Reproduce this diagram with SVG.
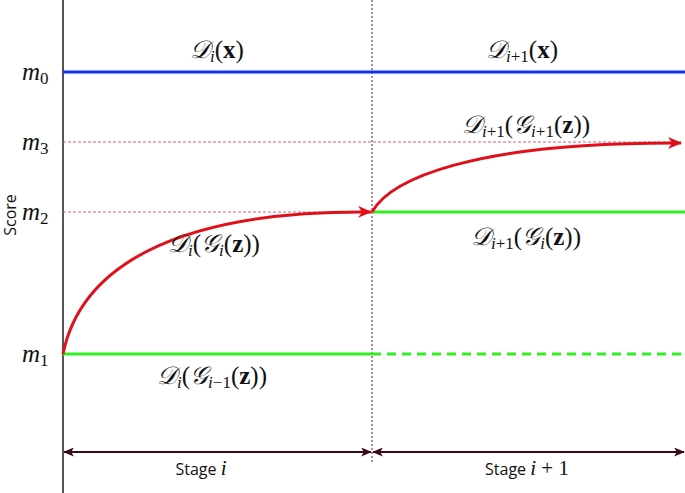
<svg xmlns="http://www.w3.org/2000/svg" width="685" height="493" viewBox="0 0 685 493">
<style>
.m{font-family:"Liberation Serif","DejaVu Serif",serif;font-style:italic;font-size:25px;fill:#111}
.r{font-style:normal}
.b{font-style:normal;font-weight:bold}
.s{font-size:17px}
.sans{font-family:"Open Sans","DejaVu Sans",sans-serif;font-size:16px;fill:#111}
.guide{stroke:#d06080;stroke-width:1;stroke-dasharray:3 2;fill:none}
.red{stroke:#e0101a;stroke-width:3;fill:none}
.green{stroke:#33ee22;stroke-width:3;fill:none}
.blue{stroke:#1133ee;stroke-width:3;fill:none}
.stage{stroke:#3a0818;stroke-width:2;fill:none}
</style>
<defs>
<marker id="ra" viewBox="0 0 14 12" refX="13" refY="6" markerWidth="14" markerHeight="12" markerUnits="userSpaceOnUse" orient="auto">
<path d="M0,0 L14,6 L0,12 L4,6 Z" fill="#e0101a"/>
</marker>
<marker id="sa" viewBox="0 0 12 10" refX="11" refY="5" markerWidth="11" markerHeight="9" markerUnits="userSpaceOnUse" orient="auto-start-reverse">
<path d="M0,0 L12,5 L0,10 L3,5 Z" fill="#3a0818"/>
</marker>
</defs>
<rect width="685" height="493" fill="#fff"/>
<g id="axes">
<line x1="63" y1="0" x2="63" y2="493" stroke="#555" stroke-width="2"/>
<line x1="372" y1="0" x2="372" y2="462" stroke="#6a1030" stroke-width="1" stroke-dasharray="2 2"/>
<text class="sans" transform="translate(16,215) rotate(-90)" text-anchor="middle">Score</text>
<text class="m" x="22" y="80">m<tspan class="r s" dy="4">0</tspan></text>
<text class="m" x="22" y="150">m<tspan class="r s" dy="4">3</tspan></text>
<text class="m" x="22" y="220">m<tspan class="r s" dy="4">2</tspan></text>
<text class="m" x="22" y="362">m<tspan class="r s" dy="4">1</tspan></text>
</g>
<g id="connectors">
<line class="guide" x1="63" y1="142" x2="670" y2="142"/>
<line class="guide" x1="63" y1="212" x2="372" y2="212"/>
<line class="blue" x1="63" y1="72" x2="685" y2="72"/>
<line class="green" x1="63" y1="354" x2="372" y2="354"/>
<line class="green" x1="372" y1="354" x2="685" y2="354" stroke-dasharray="9 6"/>
<line class="green" x1="372" y1="212" x2="685" y2="212"/>
<path class="red" d="M63,354 C80,270 170,210 371,212" marker-end="url(#ra)"/>
<path class="red" d="M372,212 C390,180 470,142 681,143" marker-end="url(#ra)"/>
<line class="stage" x1="64" y1="452" x2="371" y2="452" marker-start="url(#sa)" marker-end="url(#sa)"/>
<line class="stage" x1="373" y1="452" x2="684" y2="452" marker-start="url(#sa)" marker-end="url(#sa)"/>
</g>
<g id="labels">
<text class="m" x="217" y="58" text-anchor="middle">𝒟<tspan class="s" dy="4">i</tspan><tspan class="r" dy="-4">(</tspan><tspan class="b">x</tspan><tspan class="r">)</tspan></text>
<text class="m" x="522" y="58" text-anchor="middle">𝒟<tspan class="s" dy="4">i</tspan><tspan class="r s">+1</tspan><tspan class="r" dy="-4">(</tspan><tspan class="b">x</tspan><tspan class="r">)</tspan></text>
<text class="m" x="526" y="133" text-anchor="middle">𝒟<tspan class="s" dy="4">i</tspan><tspan class="r s">+1</tspan><tspan class="r" dy="-4">(</tspan>𝒢<tspan class="s" dy="4">i</tspan><tspan class="r s">+1</tspan><tspan class="r" dy="-4">(</tspan><tspan class="b">z</tspan><tspan class="r">))</tspan></text>
<text class="m" x="214" y="252" text-anchor="middle">𝒟<tspan class="s" dy="4">i</tspan><tspan class="r" dy="-4">(</tspan>𝒢<tspan class="s" dy="4">i</tspan><tspan class="r" dy="-4">(</tspan><tspan class="b">z</tspan><tspan class="r">))</tspan></text>
<text class="m" x="526" y="245" text-anchor="middle">𝒟<tspan class="s" dy="4">i</tspan><tspan class="r s">+1</tspan><tspan class="r" dy="-4">(</tspan>𝒢<tspan class="s" dy="4">i</tspan><tspan class="r" dy="-4">(</tspan><tspan class="b">z</tspan><tspan class="r">))</tspan></text>
<text class="m" x="212" y="384" text-anchor="middle">𝒟<tspan class="s" dy="4">i</tspan><tspan class="r" dy="-4">(</tspan>𝒢<tspan class="s" dy="4">i</tspan><tspan class="r s">−1</tspan><tspan class="r" dy="-4">(</tspan><tspan class="b">z</tspan><tspan class="r">))</tspan></text>
<text x="201" y="475" text-anchor="middle"><tspan class="sans">Stage </tspan><tspan class="m" style="font-size:21px">i</tspan></text>
<text x="527" y="475" text-anchor="middle"><tspan class="sans">Stage </tspan><tspan class="m" style="font-size:21px">i</tspan><tspan class="m r" style="font-size:21px"> + 1</tspan></text>
</g>
</svg>
